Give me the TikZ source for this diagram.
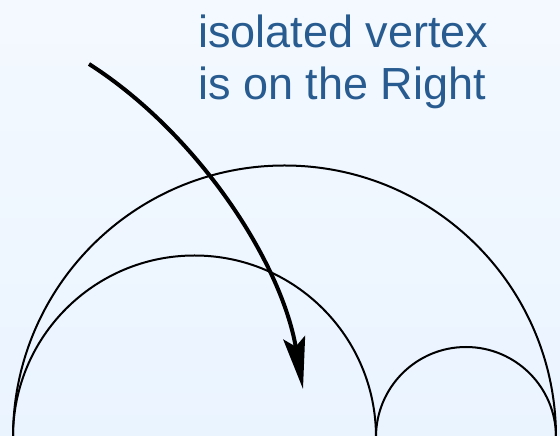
\documentclass[tikz,border=0pt]{standalone}
\usepackage{fontspec}
\setmainfont{Liberation Sans}
\usetikzlibrary{arrows.meta}
\definecolor{labelblue}{RGB}{40,92,144}
\definecolor{bgtop}{RGB}{244,249,255}
\definecolor{bgbottom}{RGB}{234,244,255}
\begin{document}
\begin{tikzpicture}[x=1pt,y=1pt,
  arcline/.style={black,line width=2pt},
  curvearrow/.style={black,line width=4pt,-{Stealth[length=52pt,width=22pt,inset=9pt]}}]
  \useasboundingbox (0,0) rectangle (560,436);
  \shade[top color=bgtop,bottom color=bgbottom] (0,0) rectangle (560,436);
  \begin{scope}
    \clip (0,0) rectangle (560,436);
    \draw[arcline] (284.5,-1) circle (271.5);
    \draw[arcline] (194.5,-1) circle (181.5);
    \draw[arcline] (466,-1) circle (90);
  \end{scope}
  \node[anchor=base west,inner sep=0pt,align=left,text=labelblue,
    font=\fontsize{45}{52}\selectfont] (label) at (198,336)
    {isolated vertex\\is on the Right};
  \coordinate (from) at (89,372);
  \coordinate (to) at (303,47);
  \draw[curvearrow] (from) .. controls (197,303) and (281,175) .. (to);
\end{tikzpicture}
\end{document}
